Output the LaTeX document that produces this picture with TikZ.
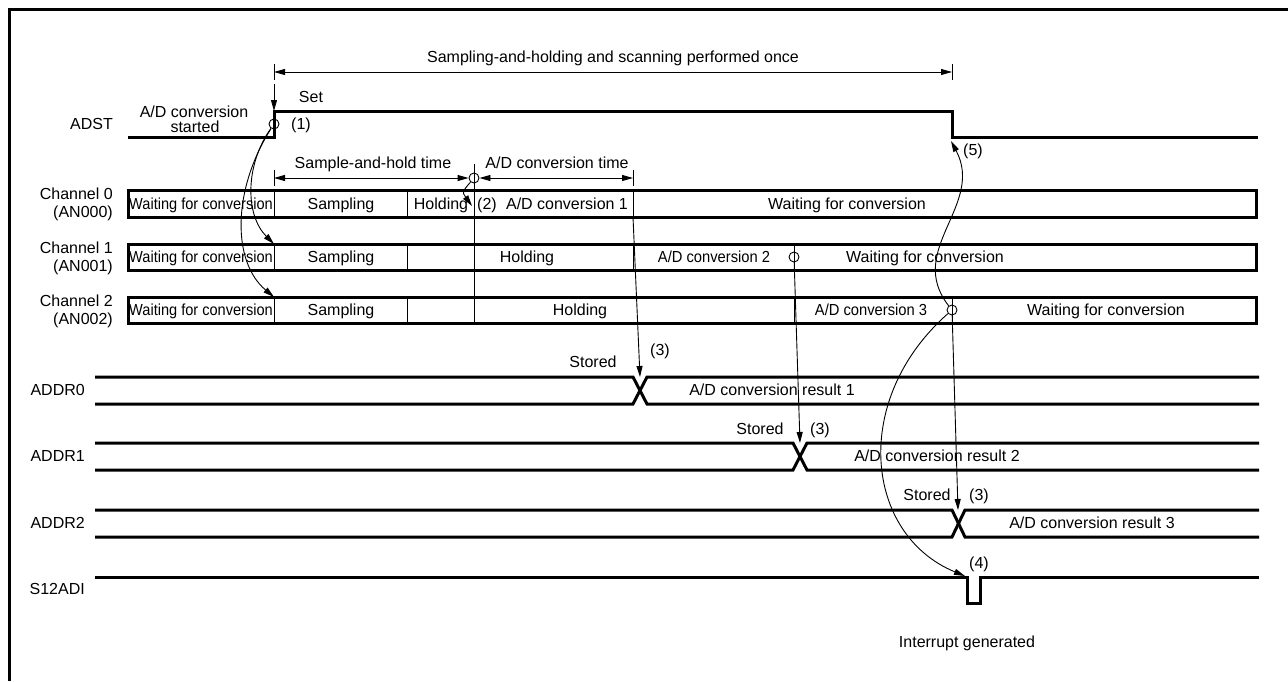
\documentclass[tikz,border=0pt]{standalone}
\usepackage{fontspec}
\setmainfont{Liberation Sans}
\usepackage{graphicx}
\usetikzlibrary{arrows.meta}
\tikzset{
  sig/.style={line width=3pt, line join=miter},
  boxline/.style={line width=3pt},
  divline/.style={line width=0.9pt},
  arr/.style={line width=0.9pt, -{Triangle[length=11pt,width=6pt]}},
  dimarr/.style={line width=0.9pt, {Triangle[length=11pt,width=6pt]}-{Triangle[length=11pt,width=6pt]}},
  circ/.style={circle, draw, line width=0.9pt, minimum size=10pt, inner sep=0pt},
  lbl/.style={inner sep=0pt, font=\fontsize{16}{19}\selectfont, text height=11.5pt, text depth=0pt},
}
\newcommand{\cond}[2]{\scalebox{#1}[1]{#2}}
\begin{document}
\begin{tikzpicture}[x=1pt,y=-1pt]
\useasboundingbox (0,0) rectangle (1288,681);
% frame
\coordinate (fb) at (9.5,681);
\coordinate (fc) at (9.5,9.5);
\coordinate (fr) at (1288,9.5);
\draw[line width=3pt] (fb) -- (fc) -- (fr);

% ---------------- ADST ----------------
\coordinate (a0) at (128,137);
\coordinate (a1) at (274,137);
\coordinate (a2) at (274,111);
\coordinate (a3) at (952,111);
\coordinate (a4) at (952,137);
\coordinate (a5) at (1258,137);
\draw[sig] (a0) -- (a1) -- (a2) -- (a3) -- (a4) -- (a5);
\node[lbl, anchor=east] (lADST) at (113,124) {ADST};
\node[lbl] (lstart1) at (194,111.5) {A/D conversion};
\node[lbl] (lstart2) at (195,127) {started};
\node[lbl] (lset) at (311,97) {Set};
\node[lbl] (l1) at (301,124) {(1)};
\node[circ] (c1) at (274,124) {};
\coordinate (setTop) at (274,84);
\draw[arr] (setTop) -- (a2);

% top dimension
\coordinate (t1a) at (274,64);
\coordinate (t1b) at (274,80);
\coordinate (t2a) at (952,64);
\coordinate (t2b) at (952,80);
\draw[divline] (t1a) -- (t1b);
\draw[divline] (t2a) -- (t2b);
\coordinate (d1l) at (274,72);
\coordinate (d1r) at (952,72);
\draw[dimarr] (d1l) -- (d1r);
\node[lbl] (ltop) at (613,57) {Sampling-and-holding and scanning performed once};

% second dimension row
\coordinate (t3a) at (274,170);
\coordinate (t3b) at (274,186);
\coordinate (t4a) at (633,170);
\coordinate (t4b) at (633,186);
\draw[divline] (t3a) -- (t3b);
\draw[divline] (t4a) -- (t4b);
\coordinate (d2l) at (274,178);
\coordinate (d3r) at (633,178);
\node[circ] (c2) at (474,178) {};
\draw[dimarr] (d2l) -- (c2);
\draw[dimarr] (c2) -- (d3r);
\node[lbl] (lsh) at (373,163) {Sample-and-hold time};
\node[lbl] (lct) at (557,163) {A/D conversion time};

% ---------------- channel boxes ----------------
\coordinate (b0a) at (128,190); \coordinate (b0b) at (1256,217);
\coordinate (b1a) at (128,244); \coordinate (b1b) at (1256,270);
\coordinate (b2a) at (128,297); \coordinate (b2b) at (1256,323);
\draw[boxline] (b0a) rectangle (b0b);
\draw[boxline] (b1a) rectangle (b1b);
\draw[boxline] (b2a) rectangle (b2b);

% dividers
\foreach \x in {274,407,633} \draw[divline] (\x,190) -- (\x,217);
\foreach \x in {274,407,633,794} \draw[divline] (\x,244) -- (\x,270);
\foreach \x in {274,407,794,952} \draw[divline] (\x,297) -- (\x,323);
\coordinate (v1) at (474,164);
\coordinate (v2) at (474,323);
\draw[divline] (v1) -- (v2);

\node[circ] (c3) at (794,257) {};
\node[circ] (c4) at (952,310) {};

\node[lbl, anchor=east] (lch0a) at (113,194) {Channel 0};
\node[lbl, anchor=east] (lch0b) at (113,212) {(AN000)};
\node[lbl, anchor=east] (lch1a) at (113,247.5) {Channel 1};
\node[lbl, anchor=east] (lch1b) at (113,265.5) {(AN001)};
\node[lbl, anchor=east] (lch2a) at (113,300.5) {Channel 2};
\node[lbl, anchor=east] (lch2b) at (113,318.5) {(AN002)};

% channel 0 texts
\node[lbl] (w00) at (201,203.5) {\cond{0.91}{Waiting for conversion}};
\node[lbl] (s0) at (341,203.5) {Sampling};
\node[lbl] (h0) at (441,203.5) {Holding};
\node[lbl] (l2) at (487,203.5) {(2)};
\node[lbl] (cv1) at (567,203.5) {A/D conversion 1};
\node[lbl] (w01) at (847,203.5) {Waiting for conversion};
% channel 1 texts
\node[lbl] (w10) at (201,257) {\cond{0.91}{Waiting for conversion}};
\node[lbl] (s1) at (341,257) {Sampling};
\node[lbl] (h1) at (527,257) {Holding};
\node[lbl] (cv2) at (714,257) {\cond{0.92}{A/D conversion 2}};
\node[lbl] (w11) at (925,257) {Waiting for conversion};
% channel 2 texts
\node[lbl] (w20) at (201,310) {\cond{0.91}{Waiting for conversion}};
\node[lbl] (s2) at (341,310) {Sampling};
\node[lbl] (h2) at (580,310) {Holding};
\node[lbl] (cv3) at (871,310) {\cond{0.92}{A/D conversion 3}};
\node[lbl] (w21) at (1106,310) {Waiting for conversion};

% ---------------- ADDR rows ----------------
\node[lbl, anchor=east] (lA0) at (85,390) {ADDR0};
\node[lbl, anchor=east] (lA1) at (85,456) {ADDR1};
\node[lbl, anchor=east] (lA2) at (85,523) {ADDR2};
\node[lbl, anchor=east] (lS) at (85,589) {S12ADI};

% ADDR0
\coordinate (r0tl) at (95,377); \coordinate (r0bl) at (95,404);
\coordinate (r0x1t) at (633,377); \coordinate (r0x1b) at (633,404);
\coordinate (r0x2t) at (647,377); \coordinate (r0x2b) at (647,404);
\coordinate (r0tr) at (1259,377); \coordinate (r0br) at (1259,404);
\draw[sig] (r0tl) -- (r0x1t) -- (r0x2b) -- (r0br);
\draw[sig] (r0bl) -- (r0x1b) -- (r0x2t) -- (r0tr);
% ADDR1
\coordinate (r1tl) at (95,443); \coordinate (r1bl) at (95,470);
\coordinate (r1x1t) at (793,443); \coordinate (r1x1b) at (793,470);
\coordinate (r1x2t) at (807,443); \coordinate (r1x2b) at (807,470);
\coordinate (r1tr) at (1259,443); \coordinate (r1br) at (1259,470);
\draw[sig] (r1tl) -- (r1x1t) -- (r1x2b) -- (r1br);
\draw[sig] (r1bl) -- (r1x1b) -- (r1x2t) -- (r1tr);
% ADDR2
\coordinate (r2tl) at (95,510); \coordinate (r2bl) at (95,537);
\coordinate (r2x1t) at (952,510); \coordinate (r2x1b) at (952,537);
\coordinate (r2x2t) at (965,510); \coordinate (r2x2b) at (965,537);
\coordinate (r2tr) at (1259,510); \coordinate (r2br) at (1259,537);
\draw[sig] (r2tl) -- (r2x1t) -- (r2x2b) -- (r2br);
\draw[sig] (r2bl) -- (r2x1b) -- (r2x2t) -- (r2tr);
% S12ADI
\coordinate (sa) at (95,577); \coordinate (sb) at (967,577);
\coordinate (sc) at (967,603); \coordinate (sd) at (980,603);
\coordinate (se) at (980,577); \coordinate (sf) at (1259,577);
\draw[sig] (sa) -- (sb) -- (sc) -- (sd) -- (se) -- (sf);

\node[lbl] (st0) at (593,362) {Stored};
\node[lbl] (n30) at (660,350) {(3)};
\node[lbl] (res1) at (772,390) {A/D conversion result 1};
\node[lbl] (st1) at (760,429) {Stored};
\node[lbl] (n31) at (820,429) {(3)};
\node[lbl] (res2) at (937,456) {A/D conversion result 2};
\node[lbl] (st2) at (927,495) {Stored};
\node[lbl] (n32) at (979,495) {(3)};
\node[lbl] (res3) at (1092,523) {A/D conversion result 3};
\node[lbl] (n4) at (979,563) {(4)};
\node[lbl] (lint) at (967,642) {Interrupt generated};
\node[lbl] (n5) at (973,150) {(5)};

% ---------------- connectors ----------------
\coordinate (ch1s) at (274,244);
\coordinate (ch2s) at (274,297);
\draw[arr] (c1) .. controls (245,165) and (245,215) .. (ch1s);
\draw[arr] (c1) .. controls (232,190) and (232,262) .. (ch2s);
\coordinate (p2) at (472,206);
\draw[arr] (c2) .. controls (462,192) .. (p2);
\coordinate (x0s) at (633,217);
\coordinate (x0e) at (640,377);
\draw[arr] (x0s) -- (x0e);
\coordinate (x1e) at (800,443);
\draw[arr] (c3) -- (x1e);
\coordinate (x2e) at (958,510);
\draw[arr] (c4) -- (x2e);
\coordinate (p5) at (951,141);
\draw[arr] (c4) .. controls (905,250) and (985,205) .. (p5);
\coordinate (p4) at (965,576);
\draw[arr] (c4) .. controls (850,400) and (865,535) .. (p4);
\end{tikzpicture}
\end{document}
